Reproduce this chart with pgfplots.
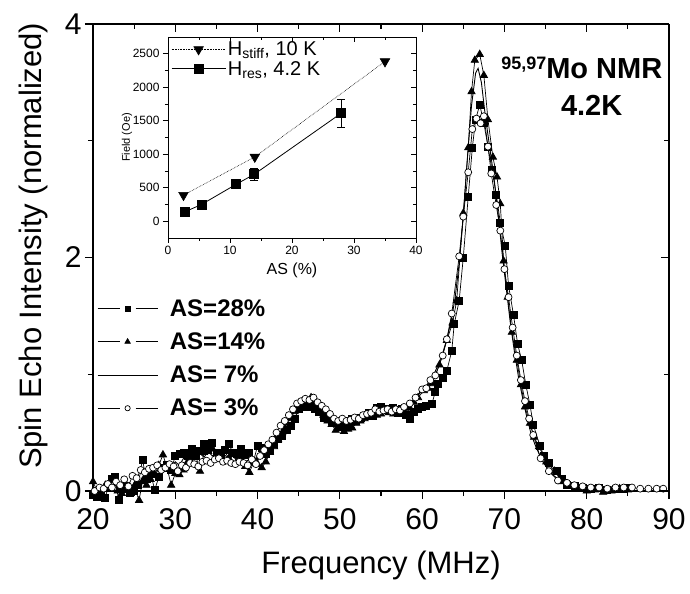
\documentclass[border=0pt]{standalone}
\usepackage{fontspec}
\setmainfont{Liberation Sans}
\usepackage{pgfplots}
\pgfplotsset{compat=1.18}

\begin{document}
\begin{tikzpicture}
\pgfplotsset{
  mainframe/.style={scale only axis, width=576bp, height=467bp,
    xmin=20, xmax=90, ymin=0, ymax=4,
    xtick={20,30,...,90}, ytick={0,2,4},
    minor x tick num=1, minor y tick num=1,
    major tick length=8bp, minor tick length=5bp,
    axis line style={line width=1.3bp,-},
    every tick/.style={line width=1.1bp, black},
    /pgf/number format/assume math mode=true},
  insetframe/.style={scale only axis, width=248bp, height=201bp,
    xmin=0, xmax=40, ymin=-250, ymax=2750,
    xtick={0,10,...,40}, ytick={0,500,...,2500},
    minor x tick num=1, minor y tick num=1,
    major tick length=5bp, minor tick length=3bp,
    axis line style={line width=0.9bp,-},
    every tick/.style={line width=0.8bp, black},
    /pgf/number format/assume math mode=true,
    /pgf/number format/set thousands separator={}},
  gaplegend/.style={legend image code/.code={
    \draw[mark=none, line width=0.6bp] (0bp,0bp)--(22bp,0bp) (38bp,0bp)--(60bp,0bp);
    \draw[only marks, /tikz/every mark/.append style={scale=0.75}] plot coordinates {(30bp,0bp)};}},
}
% main spectrum
\begin{axis}[mainframe, at={(0,0)}, anchor=south west,
  axis x line*=bottom, axis y line*=left, tick align=outside, clip=false,
  ticklabel style={font=\fontsize{30bp}{36bp}\selectfont},
  xticklabel style={yshift=-6bp},
  xlabel={Frequency (MHz)}, ylabel={Spin Echo Intensity (normalized)},
  label style={font=\fontsize{31bp}{36bp}\selectfont},
  xlabel style={at={(axis description cs:0.5,-0.1585)}, anchor=center},
  ylabel style={at={(axis description cs:-0.104,0.525)}, anchor=center},
  legend style={at={(axis cs:20.5,1.66)}, anchor=north west, draw=none, fill=none,
    font=\bfseries\fontsize{24bp}{26bp}\selectfont, row sep=11bp, inner sep=0bp,
    column sep=10bp},
  legend cell align=left,
]
\addplot[black, line width=0.7bp, mark=square*, mark size=3.5bp, gaplegend] coordinates {
(20.0,-0.03) (20.5,-0.05) (21.0,-0.02) (21.4,-0.06) (21.9,0.03) (22.3,0.10) (22.7,0.12)
(23.1,-0.08) (23.5,0.02) (24.0,0.04) (24.5,-0.02) (25.0,0.00) (25.5,0.05) (26.0,0.27)
(26.5,0.10) (27.0,0.15) (27.5,0.01) (28.0,0.12) (28.5,0.20) (29.0,0.22) (29.5,0.18)
(30.0,0.30) (30.5,0.32) (31.0,0.33) (31.5,0.30) (32.0,0.36) (32.5,0.30) (33.0,0.34)
(33.5,0.40) (34.0,0.35) (34.5,0.41) (35.0,0.33) (35.5,0.30) (36.0,0.35) (36.5,0.40)
(37.0,0.33) (37.5,0.32) (38.0,0.36) (38.5,0.31) (39.0,0.33) (39.5,0.25) (40.0,0.39)
(40.5,0.37) (41.0,0.32) (41.5,0.35) (42.0,0.40) (42.5,0.45) (43.0,0.47) (43.5,0.52)
(44.0,0.56) (44.5,0.62) (45.0,0.70) (45.5,0.73) (46.0,0.72) (46.5,0.74) (47.0,0.70)
(47.5,0.68) (48.0,0.63) (48.5,0.64) (49.0,0.60) (49.5,0.58) (50.0,0.55) (50.5,0.60)
(51.0,0.57) (51.5,0.62) (52.0,0.60) (52.5,0.63) (53.0,0.64) (53.5,0.67) (54.0,0.64)
(54.5,0.71) (55.0,0.72) (55.5,0.70) (56.0,0.69) (56.5,0.71) (57.0,0.67) (57.5,0.70)
(58.0,0.65) (58.5,0.62) (59.0,0.68) (59.5,0.70) (60.0,0.72) (60.5,0.73) (61.2,0.75)
(61.6,0.85) (61.9,0.92) (62.5,0.97) (63.0,1.03) (63.6,1.20) (63.9,1.43) (64.5,1.63)
(65.0,2.00) (65.6,2.52) (66.1,2.94) (66.5,3.18) (67.0,3.31) (67.5,3.15) (68.0,2.95)
(68.5,2.75) (69.0,2.54) (69.5,2.30) (70.1,2.10) (70.5,1.76) (71.1,1.51) (71.6,1.26)
(72.1,1.12) (72.6,0.91) (73.1,0.74) (73.5,0.57) (74.3,0.39) (74.8,0.30) (75.4,0.24)
(76.4,0.17) (77.0,0.10) (77.6,0.05) (78.5,0.04) (79.5,0.03) (80.5,0.02) (81.5,0.03)
(82.5,0.01) (83.5,0.02) (84.5,0.02) (85.0,0.03)
};
\addlegendentry{AS=28\%}
\addplot[black, line width=0.7bp, mark=triangle*, mark size=4.2bp, gaplegend] coordinates {
(20.0,0.08) (20.5,0.00) (21.0,-0.03) (21.5,0.05) (22.0,0.02) (22.5,0.10) (23.0,0.00)
(23.5,-0.02) (24.0,0.06) (24.5,0.03) (25.0,0.04) (25.6,-0.08) (26.0,0.08) (26.5,0.05)
(27.0,0.10) (27.5,0.14) (28.0,0.22) (28.5,0.31) (29.0,0.20) (29.5,0.05) (30.0,0.15)
(30.5,0.14) (31.0,0.18) (31.5,0.25) (32.0,0.34) (32.5,0.30) (33.0,0.17) (33.5,0.33)
(34.0,0.34) (34.5,0.36) (35.0,0.28) (35.5,0.30) (36.0,0.34) (36.5,0.28) (37.0,0.32)
(37.5,0.25) (38.0,0.30) (38.5,0.21) (39.0,0.16) (39.5,0.24) (40.0,0.23) (40.5,0.20)
(41.0,0.25) (41.5,0.33) (42.0,0.38) (42.5,0.44) (43.0,0.50) (43.5,0.58) (44.0,0.62)
(44.5,0.68) (45.0,0.74) (45.5,0.75) (46.0,0.76) (46.5,0.80) (47.0,0.74) (47.5,0.70)
(48.0,0.65) (48.5,0.60) (49.0,0.57) (49.5,0.52) (50.0,0.55) (50.5,0.51) (51.0,0.53)
(51.5,0.54) (52.0,0.58) (52.5,0.60) (53.0,0.62) (53.5,0.64) (54.0,0.66) (54.5,0.65)
(55.0,0.66) (55.5,0.68) (56.0,0.67) (56.5,0.66) (57.0,0.68) (57.5,0.67) (58.0,0.66)
(58.5,0.71) (59.0,0.76) (59.5,0.80) (60.2,0.86) (60.7,0.88) (61.2,0.92) (62.1,1.08)
(63.0,1.29) (63.7,1.44) (64.2,1.63) (65.0,2.38) (65.6,2.94) (66.0,3.42) (66.4,3.69)
(67.0,3.74) (67.5,3.56) (68.0,3.18) (68.6,2.86) (69.1,2.69) (69.5,2.46) (69.9,1.97)
(70.4,1.66) (70.9,1.36) (71.5,1.12) (72.0,0.91) (72.5,0.72) (73.1,0.58) (73.6,0.46)
(74.2,0.38) (75.1,0.25) (76.1,0.17) (77.0,0.08) (78.0,0.04) (79.0,0.02) (80.0,0.00)
(81.0,0.01) (82.0,-0.01) (83.0,0.00) (84.0,0.02) (85.0,0.01)
};
\addlegendentry{AS=14\%}
\addplot[black, line width=0.9bp, mark=none,
  legend image code/.code={\draw[line width=0.6bp] (0bp,0bp)--(60bp,0bp);}] coordinates {
(20,0.03) (20.5,-0.02) (21,0.04) (21.5,0.00) (22,0.06) (22.5,0.02) (23,0.08) (23.5,0.01)
(24,0.05) (24.5,0.00) (25,0.07) (25.5,0.04) (26,0.12) (26.5,0.08) (27,0.15) (27.5,0.12)
(28,0.20) (28.5,0.16) (29,0.24) (29.5,0.20) (30,0.25) (30.5,0.22) (31,0.28) (31.5,0.26)
(32,0.30) (32.5,0.27) (33,0.32) (33.5,0.29) (34,0.34) (34.5,0.30) (35,0.33) (35.5,0.29)
(36,0.31) (36.5,0.27) (37,0.30) (37.5,0.26) (38,0.28) (38.5,0.25) (39,0.27) (39.5,0.26)
(40,0.30) (40.5,0.30) (41,0.34) (41.5,0.37) (42,0.42) (42.5,0.47) (43,0.53) (43.5,0.58)
(44,0.64) (44.5,0.69) (45,0.74) (45.5,0.77) (46,0.78) (46.5,0.77) (47,0.75) (47.5,0.71)
(48,0.67) (48.5,0.63) (49,0.60) (49.5,0.57) (50,0.56) (50.5,0.57) (51,0.58) (51.5,0.60)
(52,0.61) (52.5,0.63) (53,0.64) (53.5,0.66) (54,0.67) (54.5,0.68) (55,0.69) (55.5,0.68)
(56,0.69) (56.5,0.68) (57,0.69) (57.5,0.70) (58,0.71) (58.5,0.74) (59,0.78) (59.5,0.82)
(60,0.86) (60.5,0.90) (61,0.95) (61.5,1.01) (62,1.09) (62.5,1.18) (63,1.30) (63.5,1.45)
(64,1.65) (64.5,1.95) (65,2.35) (65.5,2.85) (66,3.30) (66.5,3.58) (66.8,3.62) (67.2,3.50)
(67.7,3.20) (68.2,2.95) (68.7,2.70) (69.2,2.40) (69.7,2.05) (70.2,1.75) (70.7,1.45)
(71.2,1.20) (71.7,0.98) (72.2,0.80) (72.7,0.64) (73.2,0.50) (73.7,0.40) (74.2,0.32)
(74.7,0.25) (75.2,0.20) (75.7,0.15) (76.2,0.12) (77,0.08) (78,0.05) (79,0.03) (80,0.02)
(81,0.01) (82,0.01) (83,0.01) (84,0.01) (85,0.01)
};
\addlegendentry{AS= 7\%}
\addplot[black, line width=0.7bp, mark=*, mark size=3.5bp, mark options={fill=white, line width=0.7bp}, gaplegend] coordinates {
(20.2,0.00) (20.8,0.03) (21.3,0.02) (21.8,0.06) (22.3,0.03) (22.8,0.08) (23.3,0.05)
(23.8,0.10) (24.3,0.04) (24.8,0.13) (25.3,0.11) (25.8,0.18) (26.3,0.16) (26.8,0.19)
(27.3,0.20) (27.8,0.22) (28.3,0.18) (28.8,0.20) (29.3,0.23) (29.8,0.21) (30.3,0.17)
(30.8,0.22) (31.3,0.20) (31.8,0.24) (32.3,0.23) (32.8,0.21) (33.3,0.25) (33.8,0.26)
(34.3,0.24) (34.8,0.27) (35.3,0.28) (35.8,0.25) (36.3,0.26) (36.8,0.24) (37.3,0.23)
(37.8,0.25) (38.3,0.24) (38.8,0.22) (39.3,0.27) (39.8,0.23) (40.3,0.30) (40.8,0.35)
(41.3,0.40) (41.8,0.44) (42.3,0.50) (42.8,0.56) (43.3,0.60) (43.8,0.65) (44.3,0.70)
(44.8,0.75) (45.3,0.77) (45.8,0.79) (46.3,0.78) (46.8,0.80) (47.3,0.76) (47.8,0.73)
(48.3,0.70) (48.8,0.66) (49.3,0.62) (49.8,0.60) (50.3,0.62) (50.8,0.60) (51.3,0.61)
(51.8,0.63) (52.3,0.62) (52.8,0.65) (53.3,0.66) (53.8,0.67) (54.3,0.70) (54.8,0.68)
(55.3,0.69) (55.8,0.70) (56.3,0.68) (56.8,0.70) (57.3,0.69) (57.8,0.72) (58.5,0.75)
(59.2,0.80) (60.0,0.87) (60.5,0.88) (61.0,0.95) (61.6,0.99) (62.5,1.16) (63.0,1.30)
(63.6,1.52) (64.5,2.01) (65.0,2.35) (65.6,2.73) (66.1,3.10) (66.6,3.19) (67.1,3.15)
(67.5,3.21) (68.0,2.95) (68.4,2.72) (69.0,2.45) (69.5,2.23) (70.0,1.90) (70.5,1.66)
(71.0,1.40) (71.5,1.16) (72.0,0.95) (72.5,0.77) (73.0,0.62) (73.5,0.48) (74.4,0.28)
(75.4,0.17) (76.5,0.09) (77.6,0.07) (78.5,0.05) (79.5,0.04) (80.5,0.03) (81.5,0.03)
(82.5,0.02) (83.5,0.03) (84.5,0.03) (85.5,0.03) (86.5,0.02) (87.5,0.02) (88.5,0.02)
(89.3,0.02)
};
\addlegendentry{AS= 3\%}
\node[anchor=base, font=\bfseries\fontsize{29bp}{30bp}\selectfont] at (axis cs:79.4,3.535)
  {\raisebox{9bp}{\fontsize{18bp}{18bp}\selectfont 95,97}Mo NMR};
\node[anchor=base, font=\bfseries\fontsize{29bp}{30bp}\selectfont] at (axis cs:80.6,3.22) {4.2K};
\end{axis}
% mirrored ticks on top and right
\begin{axis}[mainframe, at={(0,0)}, anchor=south west,
  axis x line*=top, axis y line*=right, tick align=inside,
  xticklabels={}, yticklabels={}]
\end{axis}
% inset
\begin{axis}[insetframe, at={(75bp,253bp)}, anchor=south west,
  axis x line*=bottom, axis y line*=left, tick align=outside,
  ticklabel style={font=\fontsize{12bp}{14bp}\selectfont},
  xlabel={AS (\%)}, ylabel={Field (Oe)},
  xlabel style={font=\fontsize{16bp}{18bp}\selectfont, at={(axis description cs:0.5,-0.159)}, anchor=center},
  ylabel style={font=\fontsize{11bp}{13bp}\selectfont, at={(axis description cs:-0.165,0.5)}, anchor=center},
  legend style={at={(axis description cs:0.01,0.99)}, anchor=north west, draw=none, fill=none,
    font=\fontsize{20bp}{22bp}\selectfont, row sep=0bp, inner sep=0.5bp},
  legend cell align=left,
  legend image code/.code={\draw[mark repeat=2,mark phase=2] plot coordinates {(0bp,0bp) (27bp,0bp) (54bp,0bp)};},
]
\addplot[black, line width=0.6bp, densely dotted, mark=triangle*, mark size=5.5bp, mark options={solid, rotate=180}] coordinates {
(2.5,390) (14,960) (35,2385)
};
\addlegendentry{H\textsubscript{stiff}, 10 K}
\addplot[black, line width=0.8bp, mark=square*, mark size=4.5bp,
  error bars/.cd, y dir=both, y explicit, error mark options={rotate=90, mark size=4bp, line width=0.8bp},
  error bar style={line width=0.8bp}] coordinates {
(2.7,140) (5.4,250) (11,552) (13.9,700) +- (0,95) (27.9,1610) +- (0,205)
};
\addlegendentry{H\textsubscript{res}, 4.2 K}
\end{axis}
\begin{axis}[insetframe, at={(75bp,253bp)}, anchor=south west,
  axis x line*=top, axis y line*=right, tick align=inside,
  xticklabels={}, yticklabels={}]
\end{axis}
\path[use as bounding box] (-93bp,-103bp) rectangle (597bp,491bp);
\end{tikzpicture}
\end{document}
